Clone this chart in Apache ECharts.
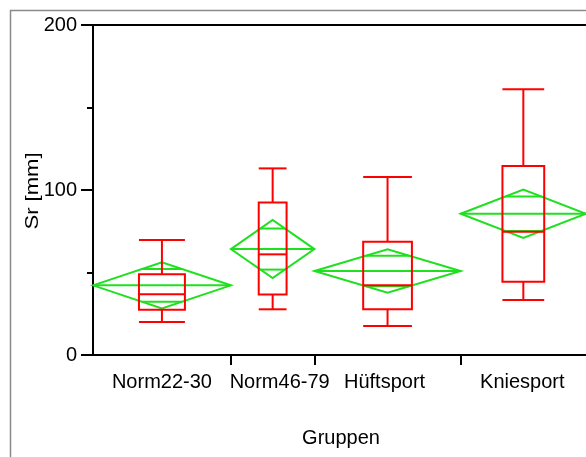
<!DOCTYPE html>
<html>
<head>
<meta charset="utf-8">
<script src="https://cdn.jsdelivr.net/npm/echarts@6/dist/echarts.min.js"></script>
<style>
  html, body { margin: 0; padding: 0; background: #fff; }
  #chart { width: 586px; height: 457px; }
</style>
</head>
<body>
<div id="chart"></div>
<script>
// Groups and their sample sizes (group width on the x axis is proportional to n)
const groups      = ['Norm22-30', 'Norm46-79', 'Hüftsport', 'Kniesport'];
const groupSizes  = [33, 20, 35, 30];

// Quantile box plot values, Sr [mm]
const whiskerLow  = [20.0, 27.7, 17.6, 33.3];
const quartile1   = [27.5, 36.6, 27.7, 44.4];
const medians     = [36.8, 61.0, 42.2, 74.7];
const quartile3   = [48.9, 92.5, 68.7, 114.5];
const whiskerHigh = [69.7, 113.1, 107.9, 161.0];

// Means diamonds: group mean and 95% confidence half-width
const means       = [42.2, 64.2, 50.9, 85.6];
const ciHalf      = [14.0, 17.6, 13.1, 14.7];

// Y axis ticks
const yMin = 0, yMax = 200, yLabelStep = 100;

const RED = '#ff0000';
const GREEN = '#1ee01e';
const FONT = 'Liberation Sans, Arial, Helvetica, sans-serif';

// cumulative group boundaries along the x axis
const starts = [], ends = [];
let acc = 0;
groupSizes.forEach(n => { starts.push(acc); acc += n; ends.push(acc); });
const total = acc;
const boundaries = ends.slice(0, -1);

const rows = groups.map((g, i) => [starts[i], ends[i], whiskerLow[i], quartile1[i],
  medians[i], quartile3[i], whiskerHigh[i], means[i], ciHalf[i]]);

// small horizontal nudges (px) for the group labels
const labelNudge = [0, 7, -3, -1];

function line(x1, y1, x2, y2, color, w) {
  return { type: 'line', shape: { x1, y1, x2, y2 }, style: { stroke: color, lineWidth: w } };
}

function renderGroup(params, api) {
  const x0 = api.value(0), x1 = api.value(1);
  const left = api.coord([x0, 0])[0];
  const right = api.coord([x1, 0])[0];
  const cx = (left + right) / 2;
  const hw = (right - left) / 2;
  const y = v => api.coord([x0, v])[1];
  const wLo = y(api.value(2)), q1 = y(api.value(3)), med = y(api.value(4));
  const q3 = y(api.value(5)), wHi = y(api.value(6));
  const mean = api.value(7), ci = api.value(8);
  const bHalf = (right - left) / 6;

  const children = [];
  // means diamond
  children.push({
    type: 'polygon',
    shape: { points: [[left, y(mean)], [cx, y(mean + ci)], [right, y(mean)], [cx, y(mean - ci)]] },
    style: { fill: 'none', stroke: GREEN, lineWidth: 2 }
  });
  children.push(line(left, y(mean), right, y(mean), GREEN, 2));
  const ov = ci / Math.SQRT2;
  const ovHalf = hw * (1 - 1 / Math.SQRT2);
  children.push(line(cx - ovHalf, y(mean + ov), cx + ovHalf, y(mean + ov), GREEN, 2));
  children.push(line(cx - ovHalf, y(mean - ov), cx + ovHalf, y(mean - ov), GREEN, 2));

  // box and whiskers
  children.push(line(cx, wHi, cx, q3, RED, 2));
  children.push(line(cx, q1, cx, wLo, RED, 2));
  children.push(line(cx - bHalf, wHi, cx + bHalf, wHi, RED, 2));
  children.push(line(cx - bHalf, wLo, cx + bHalf, wLo, RED, 2));
  children.push({
    type: 'rect',
    shape: { x: cx - bHalf, y: q3, width: 2 * bHalf, height: q1 - q3 },
    style: { fill: 'none', stroke: RED, lineWidth: 2 }
  });
  children.push(line(cx - bHalf, med, cx + bHalf, med, RED, 2));
  return { type: 'group', children };
}

function renderLabel(params, api) {
  const i = params.dataIndex;
  const c = api.coord([(api.value(0) + api.value(1)) / 2, yMin]);
  return {
    type: 'text',
    x: c[0] + labelNudge[i], y: c[1] + 17,
    style: { text: groups[i], fill: '#000', font: '20px ' + FONT, align: 'center', verticalAlign: 'top' }
  };
}

const chart = echarts.init(document.getElementById('chart'), null, { renderer: 'canvas' });
chart.setOption({
  animation: false,
  backgroundColor: '#fff',
  grid: { left: 93, top: 25, right: -3, bottom: 102, containLabel: false },
  xAxis: [{
    type: 'value', min: 0, max: total, position: 'bottom',
    axisLine: { show: true, onZero: false, lineStyle: { color: '#000', width: 2 } },
    axisTick: { show: true, customValues: boundaries, length: 10, lineStyle: { color: '#000', width: 2 } },
    axisLabel: { show: false },
    splitLine: { show: false }
  }, {
    type: 'value', min: 0, max: total, position: 'top',
    axisLine: { show: true, onZero: false, lineStyle: { color: '#000', width: 2 } },
    axisTick: { show: false }, axisLabel: { show: false }, splitLine: { show: false }
  }],
  yAxis: {
    type: 'value', min: yMin, max: yMax, interval: yLabelStep,
    axisLine: { show: true, lineStyle: { color: '#000', width: 2 } },
    axisTick: { show: true, length: 12, lineStyle: { color: '#000', width: 2 } },
    minorTick: { show: true, splitNumber: 2, length: 6, lineStyle: { color: '#000', width: 2 } },
    axisLabel: { margin: 16, color: '#000', fontSize: 20, fontFamily: FONT },
    splitLine: { show: false }, minorSplitLine: { show: false }
  },
  graphic: [
    { type: 'rect', shape: { x: 10.5, y: 10.5, width: 700, height: 700 },
      style: { fill: 'none', stroke: '#8a8a8a', lineWidth: 1.5 }, z: -1 },
    { type: 'text', x: 33, y: 191, rotation: Math.PI / 2, scaleX: 1.16,
      style: { text: 'Sr [mm]', font: '19px ' + FONT, fill: '#000', align: 'center', verticalAlign: 'middle' } },
    { type: 'text', x: 341, y: 438,
      style: { text: 'Gruppen', font: '20px ' + FONT, fill: '#000', align: 'center', verticalAlign: 'middle' } }
  ],
  series: [{
    type: 'custom', renderItem: renderGroup, data: rows, clip: false,
    encode: { x: [0, 1], y: [2, 6] }
  }, {
    type: 'custom', renderItem: renderLabel, data: rows, clip: false,
    encode: { x: [0, 1] }
  }]
});
</script>
</body>
</html>
